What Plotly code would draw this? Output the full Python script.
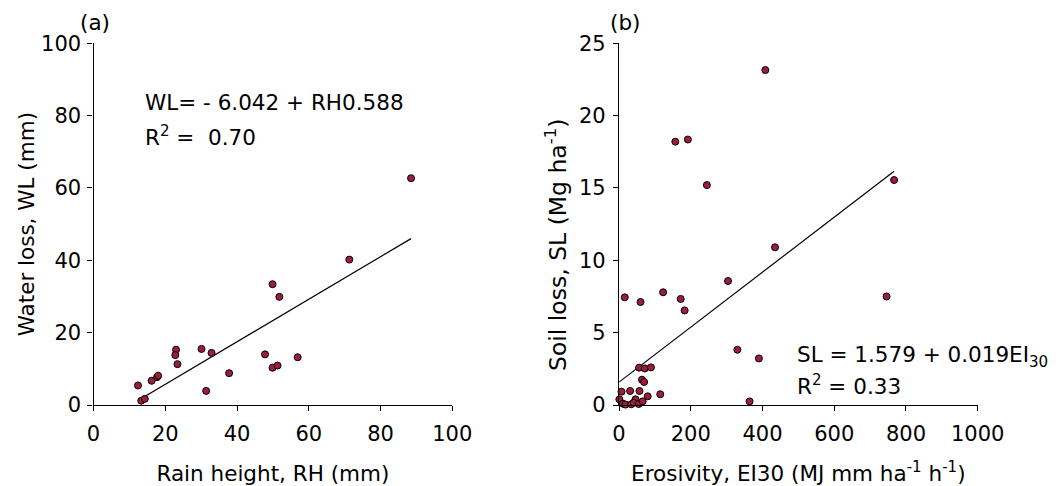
import numpy as np
import plotly.graph_objects as go

# (a) rain height vs water loss
rain_height = [12.4, 13.3, 14.3, 16.2, 17.7, 18.0, 23.0, 22.8, 23.4, 30.1, 32.9,
               31.4, 37.8, 47.8, 49.9, 51.3, 56.9, 49.9, 51.8, 71.3, 88.5]
water_loss = [5.4, 1.2, 1.7, 6.7, 7.7, 8.1, 15.3, 13.8, 11.3, 15.5, 14.4,
              3.9, 8.8, 14.0, 10.3, 10.9, 13.2, 33.4, 29.9, 40.2, 62.7]
wl_intercept, wl_slope = -6.042, 0.588

# (b) erosivity vs soil loss
erosivity = [408, 157, 192, 245, 767, 435, 304, 123, 16, 172, 746, 60, 183, 330,
             390, 364, 56, 72, 89, 64, 70, 7, 31, 57, 115, 1, 11, 18, 34, 46,
             41, 55, 66, 80]
soil_loss = [23.15, 18.2, 18.35, 15.2, 15.55, 10.9, 8.57, 7.79, 7.44, 7.33, 7.5,
             7.12, 6.54, 3.82, 3.22, 0.25, 2.58, 2.53, 2.6, 1.75, 1.59, 0.92,
             0.97, 0.97, 0.74, 0.39, 0.09, 0.03, 0.05, 0.39, 0.16, 0.07, 0.25, 0.6]
sl_intercept, sl_slope = 1.579, 0.019

FONT = "DejaVu Sans"
MARKER = dict(size=7, color="#9e1c3c", line=dict(color="black", width=1))
W, H = 1060, 486

fig = go.Figure()

# fitted lines across the observed range
xa = np.array([min(rain_height), max(rain_height)])
fig.add_trace(go.Scatter(x=xa, y=wl_intercept + wl_slope * xa, mode="lines",
                         line=dict(color="black", width=1.2),
                         xaxis="x", yaxis="y", showlegend=False))
fig.add_trace(go.Scatter(x=rain_height, y=water_loss, mode="markers", marker=MARKER,
                         xaxis="x", yaxis="y", showlegend=False, cliponaxis=False))

xb = np.array([min(erosivity), max(erosivity)])
fig.add_trace(go.Scatter(x=xb, y=sl_intercept + sl_slope * xb, mode="lines",
                         line=dict(color="black", width=1.2),
                         xaxis="x2", yaxis="y2", showlegend=False))
fig.add_trace(go.Scatter(x=erosivity, y=soil_loss, mode="markers", marker=MARKER,
                         xaxis="x2", yaxis="y2", showlegend=False, cliponaxis=False))

# plot areas in pixels
ya_top, ya_bot = 43.3, 405.0
a_left, a_right = 93.5, 452.3
b_left, b_right = 619.0, 977.7
ydom = [1 - ya_bot / H, 1 - ya_top / H]

axis_common = dict(showgrid=False, zeroline=False, showline=True, linecolor="black",
                   linewidth=1.3, ticks="outside", ticklen=5, tickwidth=1.3,
                   tickcolor="black", tickfont=dict(family=FONT, size=21, color="black"),
                   automargin=False)
title_font = dict(family=FONT, size=21.5, color="black")

fig.update_layout(
    width=W, height=H,
    margin=dict(l=0, r=0, t=0, b=0),
    paper_bgcolor="white", plot_bgcolor="white",
    xaxis=dict(domain=[a_left / W, a_right / W], range=[0, 100], tickvals=[0, 20, 40, 60, 80, 100],
               anchor="y", ticklabelstandoff=5,
               title=dict(text="Rain height, RH (mm)", font=title_font, standoff=20),
               **axis_common),
    yaxis=dict(domain=ydom, range=[0, 100], tickvals=[0, 20, 40, 60, 80, 100], anchor="x",
               ticklabelstandoff=2,
               title=dict(text="Water loss, WL (mm)", font=title_font, standoff=0),
               **axis_common),
    xaxis2=dict(domain=[b_left / W, b_right / W], range=[0, 1000],
                tickvals=[0, 200, 400, 600, 800, 1000], anchor="y2", ticklabelstandoff=5,
                title=dict(text="Erosivity, EI30 (MJ mm ha<sup>-1</sup> h<sup>-1</sup>)",
                           font=title_font, standoff=20),
                **axis_common),
    yaxis2=dict(domain=ydom, range=[0, 25], tickvals=[0, 5, 10, 15, 20, 25], anchor="x2",
                ticklabelstandoff=3, **axis_common),
)

ann_font = dict(family=FONT, size=21.5, color="black")
annotations = [
    dict(text="(a)", x=78 / W, y=1 - 23 / H, xref="paper", yref="paper",
         xanchor="left", yanchor="middle", showarrow=False, font=ann_font),
    dict(text="(b)", x=608 / W, y=1 - 23 / H, xref="paper", yref="paper",
         xanchor="left", yanchor="middle", showarrow=False, font=ann_font),
    # y-axis title of panel (b)
    dict(text="Soil loss, SL (Mg ha<sup>-1</sup>)", x=556 / W, y=1 - 245 / H,
         xref="paper", yref="paper", xanchor="center", yanchor="middle", textangle=-90,
         showarrow=False, font=dict(family=FONT, size=23.5, color="black")),
    dict(text="WL= - 6.042 + RH0.588", x=143 / W, y=1 - 103 / H, xref="paper", yref="paper",
         xanchor="left", yanchor="middle", showarrow=False, font=ann_font),
    dict(text="R<sup>2</sup> =  0.70", x=143 / W, y=1 - 136 / H, xref="paper", yref="paper",
         xanchor="left", yanchor="middle", showarrow=False, font=ann_font),
    dict(text="SL = 1.579 + 0.019EI<sub>30</sub>", x=795 / W, y=1 - 356 / H, xref="paper",
         yref="paper", xanchor="left", yanchor="middle", showarrow=False, font=ann_font),
    dict(text="R<sup>2</sup> = 0.33", x=795 / W, y=1 - 385 / H, xref="paper", yref="paper",
         xanchor="left", yanchor="middle", showarrow=False, font=ann_font),
]
fig.update_layout(annotations=annotations)

fig.write_html("out.html")
